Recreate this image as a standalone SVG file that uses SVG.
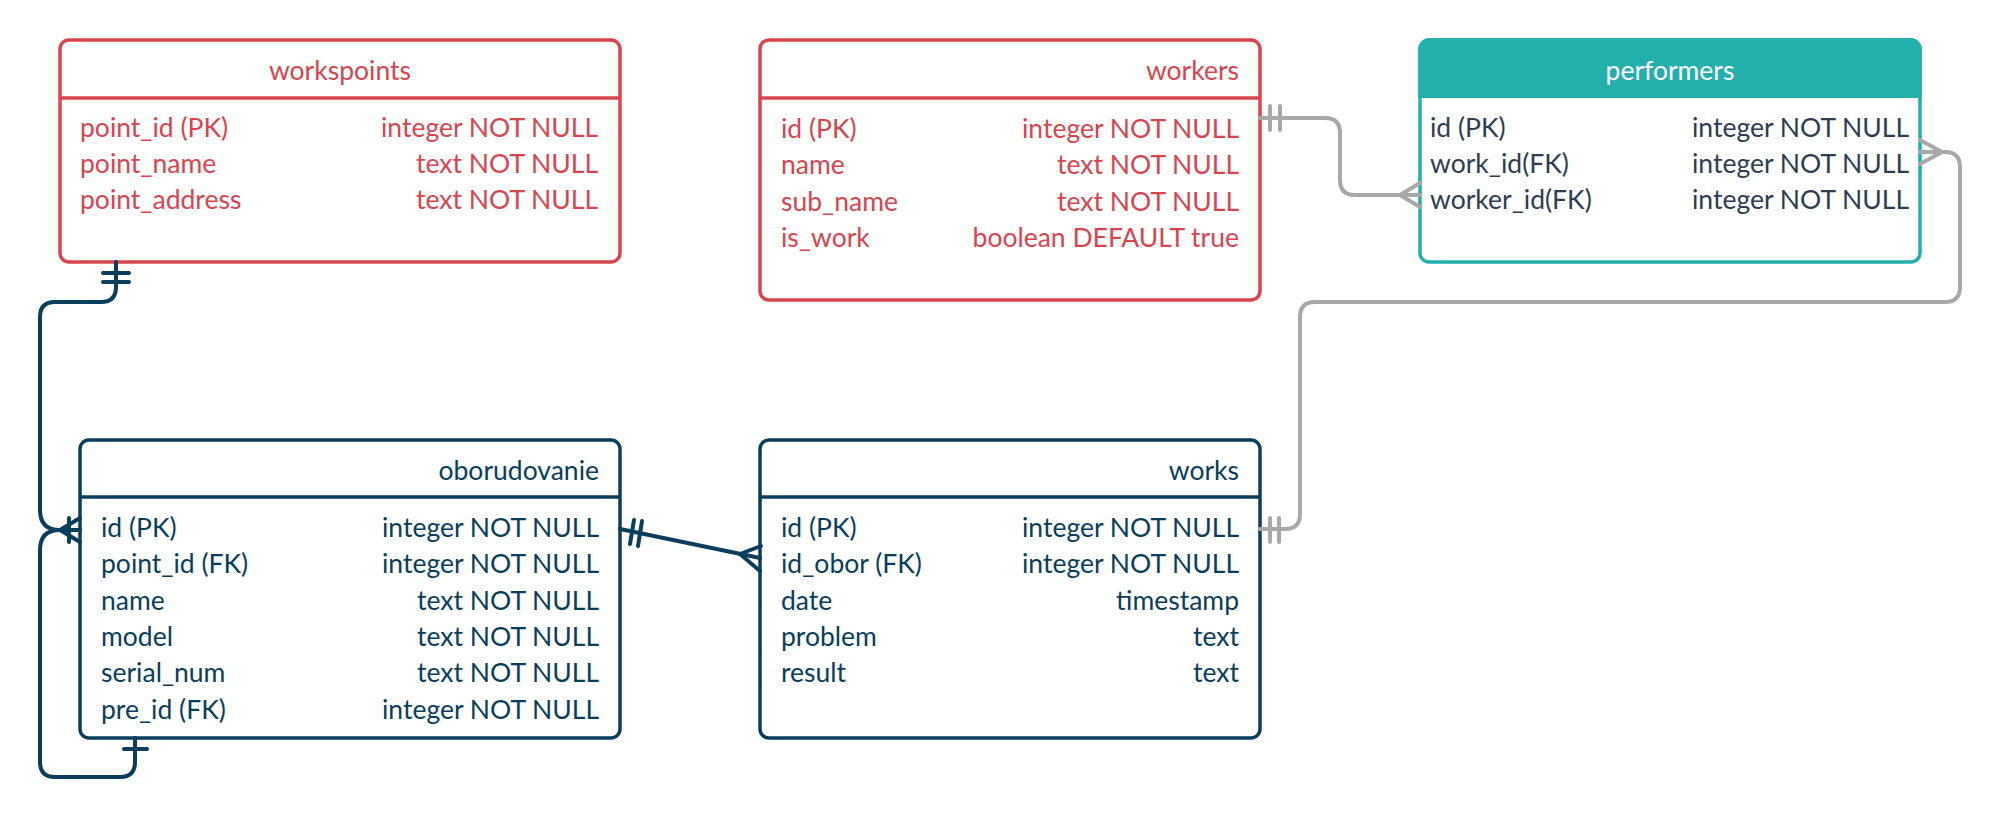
<svg xmlns="http://www.w3.org/2000/svg" width="2000" height="820" viewBox="0 0 2000 820">
<style>
text{font-family:Lato,"Liberation Sans",sans-serif;font-size:26.5px}
.red .box{fill:#fff;stroke:#d9444f;stroke-width:3.5}
.red .div{stroke:#d9444f;stroke-width:3.5}
.red text{fill:#d9444f}
.navy .box{fill:#fff;stroke:#0b3d5c;stroke-width:3.5}
.navy .div{stroke:#0b3d5c;stroke-width:3.5}
.navy text{fill:#0b3d5c}
.teal .box{fill:#fff;stroke:#23afac;stroke-width:3.5}
.teal .head{fill:#23afac}
.teal text{fill:#2d3d52}
.teal text.title{fill:#fff}
.e{text-anchor:end}
.m{text-anchor:middle}
.cn path{fill:none;stroke-width:4;stroke-linecap:round;stroke-linejoin:round}
.g{stroke:#a8a8a8}
.n{stroke:#0b3d5c}
</style>

<g id="workspoints" class="red">
<rect class="box" x="60" y="40" width="560" height="222" rx="9"/>
<line class="div" x1="60" y1="98" x2="620" y2="98"/>
<text class="m" x="340" y="80">workspoints</text>
<text x="80" y="137">point_id (PK)</text><text class="e" x="598" y="137">integer NOT NULL</text>
<text x="80" y="173">point_name</text><text class="e" x="598" y="173">text NOT NULL</text>
<text x="80" y="209">point_address</text><text class="e" x="598" y="209">text NOT NULL</text>
</g>

<g id="workers" class="red">
<rect class="box" x="760" y="40" width="500" height="260" rx="9"/>
<line class="div" x1="760" y1="98" x2="1260" y2="98"/>
<text class="e" x="1239" y="80">workers</text>
<text x="781" y="138">id (PK)</text><text class="e" x="1239" y="138">integer NOT NULL</text>
<text x="781" y="174">name</text><text class="e" x="1239" y="174">text NOT NULL</text>
<text x="781" y="211">sub_name</text><text class="e" x="1239" y="211">text NOT NULL</text>
<text x="781" y="247">is_work</text><text class="e" x="1239" y="247">boolean DEFAULT true</text>
</g>

<g id="performers" class="teal">
<rect class="box" x="1420" y="40" width="500" height="222" rx="9"/>
<path class="head" d="M1418.25,98 V49 A10.75,10.75 0 0 1 1429,38.25 H1911 A10.75,10.75 0 0 1 1921.75,49 V98 Z"/>
<text class="m title" x="1670" y="80">performers</text>
<text x="1430" y="137">id (PK)</text><text class="e" x="1909" y="137">integer NOT NULL</text>
<text x="1430" y="173">work_id(FK)</text><text class="e" x="1909" y="173">integer NOT NULL</text>
<text x="1430" y="209">worker_id(FK)</text><text class="e" x="1909" y="209">integer NOT NULL</text>
</g>

<g id="oborudovanie" class="navy">
<rect class="box" x="80" y="440" width="540" height="298" rx="9"/>
<line class="div" x1="80" y1="497" x2="620" y2="497"/>
<text class="e" x="599" y="480">oborudovanie</text>
<text x="101" y="537">id (PK)</text><text class="e" x="599" y="537">integer NOT NULL</text>
<text x="101" y="573">point_id (FK)</text><text class="e" x="599" y="573">integer NOT NULL</text>
<text x="101" y="610">name</text><text class="e" x="599" y="610">text NOT NULL</text>
<text x="101" y="646">model</text><text class="e" x="599" y="646">text NOT NULL</text>
<text x="101" y="682">serial_num</text><text class="e" x="599" y="682">text NOT NULL</text>
<text x="101" y="719">pre_id (FK)</text><text class="e" x="599" y="719">integer NOT NULL</text>
</g>

<g id="works" class="navy">
<rect class="box" x="760" y="440" width="500" height="298" rx="9"/>
<line class="div" x1="760" y1="497" x2="1260" y2="497"/>
<text class="e" x="1239" y="480">works</text>
<text x="781" y="537">id (PK)</text><text class="e" x="1239" y="537">integer NOT NULL</text>
<text x="781" y="573">id_obor (FK)</text><text class="e" x="1239" y="573">integer NOT NULL</text>
<text x="781" y="610">date</text><text class="e" x="1239" y="610">timestamp</text>
<text x="781" y="646">problem</text><text class="e" x="1239" y="646">text</text>
<text x="781" y="682">result</text><text class="e" x="1239" y="682">text</text>
</g>

<g id="connectors" class="cn">
<!-- workers -> performers -->
<path class="g" d="M1260,118 H1325 Q1340,118 1340,133 V180 Q1340,195 1355,195 H1420"/>
<path class="g" d="M1270,106 V130 M1280,106 V130"/>
<path class="g" d="M1420,183 L1400,195 L1420,207"/>
<!-- works -> performers -->
<path class="g" d="M1920,152 H1945 Q1960,152 1960,167 V287 Q1960,302 1945,302 H1315 Q1300,302 1300,317 V514 Q1300,529 1285,529 H1260"/>
<path class="g" d="M1920,140 L1942,152 L1920,164"/>
<path class="g" d="M1270,518 V542 M1279,518 V542"/>
<!-- workspoints -> oborudovanie -->
<path class="n" d="M116,262 V287 Q116,302 101,302 H55 Q40,302 40,317 V510 Q40,530 60,530 H80"/>
<path class="n" d="M103,273 H129 M103,282 H129"/>
<!-- oborudovanie self -->
<path class="n" d="M135,738 V762 Q135,777 120,777 H55 Q40,777 40,762 V550 Q40,530 60,530"/>
<path class="n" d="M124,749 H147"/>
<path class="n" d="M80,518 L60,530 L80,542 M69,518 V542"/>
<!-- oborudovanie -> works -->
<path class="n" d="M620,529 L760,558"/>
<path class="n" d="M634,520 L630,544 M642,521 L638,546"/>
<path class="n" d="M761,546 L740,554 L760,571"/>
</g>
</svg>
